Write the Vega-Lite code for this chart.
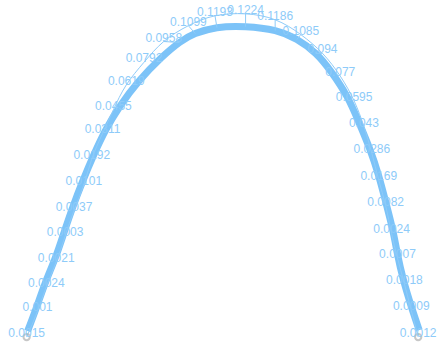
{
  "$schema": "https://vega.github.io/schema/vega-lite/v6.json",
  "width": 437,
  "height": 345,
  "autosize": {"type": "fit", "contains": "padding"},
  "padding": 0,
  "config": {"view": {"stroke": null}},
  "data": {"values": [
    {"i": 1, "p": "0.0015", "x": 28, "y": 10, "lx": 27, "ly": 4},
    {"i": 2, "p": "0.001", "x": 37, "y": 34, "lx": 38, "ly": 30},
    {"i": 3, "p": "0.0024", "x": 46, "y": 59, "lx": 47, "ly": 55},
    {"i": 4, "p": "0.0021", "x": 56, "y": 84, "lx": 57, "ly": 80},
    {"i": 5, "p": "0.0003", "x": 65, "y": 110, "lx": 66, "ly": 106},
    {"i": 6, "p": "0.0037", "x": 74, "y": 136, "lx": 75, "ly": 132},
    {"i": 7, "p": "0.0101", "x": 84, "y": 162, "lx": 85, "ly": 158},
    {"i": 8, "p": "0.0192", "x": 95, "y": 188, "lx": 93, "ly": 184},
    {"i": 9, "p": "0.0311", "x": 107, "y": 213, "lx": 104, "ly": 210},
    {"i": 10, "p": "0.0455", "x": 122, "y": 238, "lx": 115, "ly": 234},
    {"i": 11, "p": "0.0619", "x": 141, "y": 263, "lx": 128, "ly": 259},
    {"i": 12, "p": "0.0792", "x": 163, "y": 286, "lx": 146, "ly": 282},
    {"i": 13, "p": "0.0958", "x": 182, "y": 302, "lx": 166, "ly": 303},
    {"i": 14, "p": "0.1099", "x": 198, "y": 311, "lx": 191, "ly": 319},
    {"i": 15, "p": "0.1193", "x": 220, "y": 317, "lx": 218, "ly": 329},
    {"i": 16, "p": "0.1224", "x": 249, "y": 318, "lx": 249, "ly": 331},
    {"i": 17, "p": "0.1186", "x": 279, "y": 314, "lx": 279, "ly": 325},
    {"i": 18, "p": "0.1085", "x": 301, "y": 305, "lx": 305, "ly": 310},
    {"i": 19, "p": "0.094", "x": 320, "y": 291, "lx": 327, "ly": 291},
    {"i": 20, "p": "0.077", "x": 336, "y": 272, "lx": 345, "ly": 268},
    {"i": 21, "p": "0.0595", "x": 352, "y": 247, "lx": 359, "ly": 243},
    {"i": 22, "p": "0.043", "x": 364, "y": 221, "lx": 369, "ly": 217},
    {"i": 23, "p": "0.0286", "x": 375, "y": 194, "lx": 377, "ly": 190},
    {"i": 24, "p": "0.0169", "x": 384, "y": 167, "lx": 384, "ly": 163},
    {"i": 25, "p": "0.0082", "x": 391, "y": 141, "lx": 391, "ly": 137},
    {"i": 26, "p": "0.0024", "x": 398, "y": 113, "lx": 397, "ly": 109},
    {"i": 27, "p": "0.0007", "x": 403, "y": 88, "lx": 403, "ly": 84},
    {"i": 28, "p": "0.0018", "x": 409, "y": 62, "lx": 410, "ly": 58},
    {"i": 29, "p": "0.0009", "x": 417, "y": 35, "lx": 417, "ly": 31},
    {"i": 30, "p": "0.0012", "x": 425, "y": 11, "lx": 424, "ly": 4}
  ]},
  "layer": [
    {
      "mark": {"type": "line", "color": "#7cc3f8", "strokeWidth": 7, "interpolate": "natural", "strokeCap": "butt"},
      "encoding": {
        "x": {"field": "x", "type": "quantitative", "scale": {"domain": [0, 437], "nice": false, "zero": false}, "axis": null},
        "y": {"field": "y", "type": "quantitative", "scale": {"domain": [0, 345], "nice": false, "zero": false}, "axis": null},
        "order": {"field": "i"}
      }
    },
    {
      "mark": {"type": "line", "color": "#8ecbf9", "strokeWidth": 1, "interpolate": "natural"},
      "encoding": {
        "x": {"field": "lx", "type": "quantitative"},
        "y": {"field": "ly", "type": "quantitative"},
        "order": {"field": "i"}
      }
    },
    {
      "transform": [{"filter": "datum.i >= 13 && datum.i <= 19"}],
      "mark": {"type": "rule", "color": "#8ecbf9", "strokeWidth": 1},
      "encoding": {
        "x": {"field": "x", "type": "quantitative"},
        "y": {"field": "y", "type": "quantitative"},
        "x2": {"field": "lx"},
        "y2": {"field": "ly"}
      }
    },
    {
      "transform": [{"filter": "datum.i == 1 || datum.i == 30"}],
      "mark": {"type": "point", "filled": false, "color": "#b0b0b0", "size": 40, "opacity": 0.7},
      "encoding": {
        "x": {"field": "lx", "type": "quantitative"},
        "y": {"field": "ly", "type": "quantitative"}
      }
    },
    {
      "mark": {"type": "text", "color": "#8ecbf9", "fontSize": 12, "font": "Liberation Sans", "align": "center", "baseline": "alphabetic"},
      "encoding": {
        "x": {"field": "lx", "type": "quantitative"},
        "y": {"field": "ly", "type": "quantitative"},
        "text": {"field": "p", "type": "nominal"}
      }
    }
  ]
}
